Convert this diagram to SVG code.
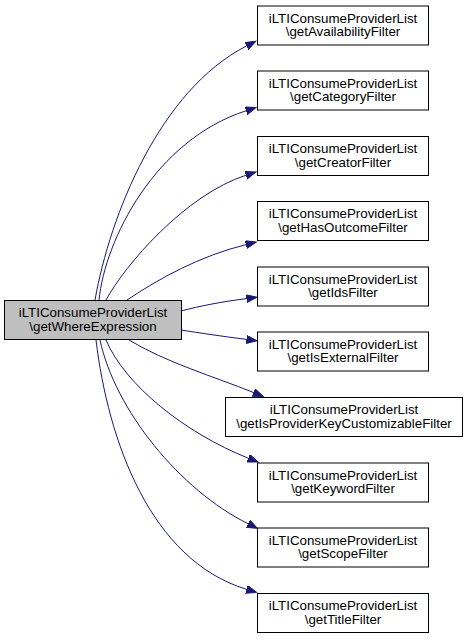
<svg xmlns="http://www.w3.org/2000/svg" width="465" height="640" viewBox="0 0 465 640">
<style>
.node rect{fill:#ffffff;stroke:#000000;stroke-width:1}
.node.main rect{fill:#bfbfbf;stroke:#000000}
.node text{font-family:"Liberation Sans",Arial,Helvetica,sans-serif;font-size:13.33px;fill:#000000;text-anchor:middle}
.edges path{fill:none;stroke:#191970;stroke-width:1;marker-end:url(#arr)}
</style>
<defs>
<marker id="arr" markerUnits="userSpaceOnUse" markerWidth="13" markerHeight="10" refX="0" refY="4" orient="auto">
<polygon points="0,0 10.5,4 0,8" fill="#191970" stroke="#191970" stroke-width="1"/>
</marker>
</defs>
<rect width="465" height="640" fill="#ffffff"/>
<g id="edges" class="edges">
<path d="M95,300 C110,215 160,90 246.5,46"/>
<path d="M99,300 C105,240 155,140 246,110.8"/>
<path d="M106,300 C125,265 185,195 246,175.2"/>
<path d="M127,300 C160,278 200,256 246,244.6"/>
<path d="M181,311 C200,306 220,302 246.5,298.6"/>
<path d="M181,330 C200,333 220,336 246.5,339.4"/>
<path d="M129,340 C165,362 215,377 253.5,392.5"/>
<path d="M106,340 C125,385 185,433 248.3,458.2"/>
<path d="M100,340 C115,410 180,490 248,523.7"/>
<path d="M96,340 C108,440 150,560 246.5,589.3"/>
</g>
<g id="node_main" class="node main">
<rect x="4.5" y="300.5" width="177" height="39"/>
<text x="93" y="317">iLTIConsumeProviderList</text>
<text x="93" y="330.5">\getWhereExpression</text>
</g>
<g id="node_availability" class="node">
<rect x="257.5" y="6" width="171" height="39"/>
<text x="343" y="22.5">iLTIConsumeProviderList</text>
<text x="343" y="36">\getAvailabilityFilter</text>
</g>
<g id="node_category" class="node">
<rect x="257.5" y="71" width="171" height="39"/>
<text x="343" y="87.5">iLTIConsumeProviderList</text>
<text x="343" y="101">\getCategoryFilter</text>
</g>
<g id="node_creator" class="node">
<rect x="257.5" y="136.5" width="171" height="39"/>
<text x="343" y="153">iLTIConsumeProviderList</text>
<text x="343" y="166.5">\getCreatorFilter</text>
</g>
<g id="node_hasoutcome" class="node">
<rect x="257.5" y="201.5" width="171" height="39"/>
<text x="343" y="218">iLTIConsumeProviderList</text>
<text x="343" y="231.5">\getHasOutcomeFilter</text>
</g>
<g id="node_ids" class="node">
<rect x="257.5" y="267" width="171" height="39"/>
<text x="343" y="283.5">iLTIConsumeProviderList</text>
<text x="343" y="297">\getIdsFilter</text>
</g>
<g id="node_isexternal" class="node">
<rect x="257.5" y="332" width="171" height="39"/>
<text x="343" y="348.5">iLTIConsumeProviderList</text>
<text x="343" y="362">\getIsExternalFilter</text>
</g>
<g id="node_isproviderkey" class="node">
<rect x="225.5" y="397.5" width="237" height="39"/>
<text x="344" y="414">iLTIConsumeProviderList</text>
<text x="344" y="427.5">\getIsProviderKeyCustomizableFilter</text>
</g>
<g id="node_keyword" class="node">
<rect x="257.5" y="463" width="171" height="39"/>
<text x="343" y="479.5">iLTIConsumeProviderList</text>
<text x="343" y="493">\getKeywordFilter</text>
</g>
<g id="node_scope" class="node">
<rect x="257.5" y="528" width="171" height="39"/>
<text x="343" y="544.5">iLTIConsumeProviderList</text>
<text x="343" y="558">\getScopeFilter</text>
</g>
<g id="node_title" class="node">
<rect x="257.5" y="593.5" width="171" height="39"/>
<text x="343" y="610">iLTIConsumeProviderList</text>
<text x="343" y="623.5">\getTitleFilter</text>
</g>
</svg>
